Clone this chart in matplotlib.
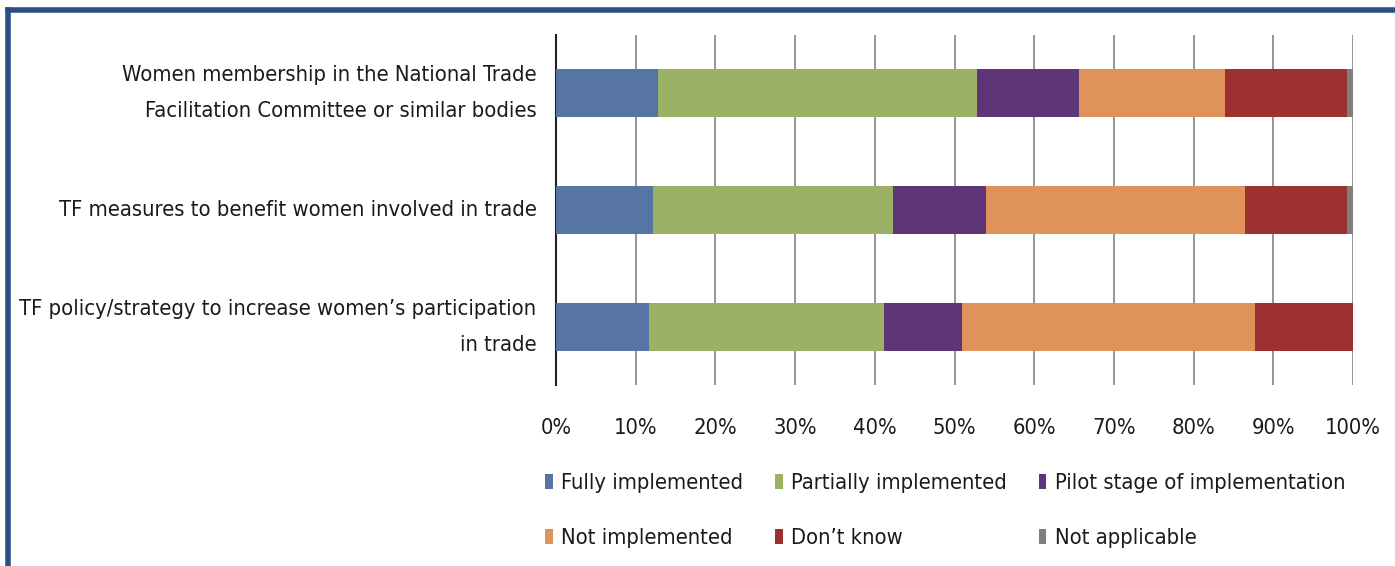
import numpy as np
import matplotlib
matplotlib.use("Agg")
import matplotlib.pyplot as plt
from matplotlib.patches import Patch
from matplotlib.lines import Line2D

plt.rcParams['font.family'] = ['DejaVu Sans']
plt.rcParams['font.stretch'] = 'condensed'

categories = [
    "Women membership in the National Trade\nFacilitation Committee or similar bodies",
    "TF measures to benefit women involved in trade",
    "TF policy/strategy to increase women\u2019s participation\nin trade",
]
series = ["Fully implemented", "Partially implemented", "Pilot stage of implementation",
          "Not implemented", "Don\u2019t know", "Not applicable"]
fully = [12.8, 12.2, 11.7]
partially = [40.0, 30.1, 29.4]
pilot = [12.8, 11.6, 9.8]
not_impl = [18.4, 32.6, 36.8]
dont_know = [15.3, 12.8, 12.3]
not_appl = [0.7, 0.7, 0.0]
colors = ["#5675A5", "#9BB264", "#5E3578", "#DF925A", "#9D3030", "#7F7F7F"]

values = [fully, partially, pilot, not_impl, dont_know, not_appl]

fig = plt.figure(figsize=(13.95, 5.66), dpi=100)

# pick a font size so the longest label line is about as wide as in the reference (~515 px)
probe = fig.text(0, 0, "TF policy/strategy to increase women\u2019s participation", fontsize=20)
fig.canvas.draw()
w = probe.get_window_extent().width
probe.remove()
fs = 20 * 515 / w

ax = fig.add_axes([556 / 1395, 1 - 385 / 566, 797 / 1395, 350 / 566])

y = np.arange(len(categories))
left = np.zeros(len(categories))
handles = []
for vals, name, c in zip(values, series, colors):
    ax.barh(y, vals, left=left, height=0.41, color=c, edgecolor='none', zorder=3)
    left += np.array(vals)
    handles.append(Patch(facecolor=c, label=name))

ax.set_ylim(2.5, -0.5)
ax.set_xlim(0, 100)
ax.set_xticks(np.arange(0, 101, 10))
ax.set_xticklabels([f"{t}%" for t in range(0, 101, 10)])
ax.set_yticks(y)
ax.set_yticklabels(categories, fontsize=fs, linespacing=2.0, va='center')
ax.tick_params(axis='x', length=0, pad=24, labelsize=fs, labelcolor='#1a1a1a')
ax.tick_params(axis='y', length=0, pad=14, labelcolor='#1a1a1a')
ax.grid(axis='x', color='#8c8c8c', linewidth=1.3, zorder=0)
for s in ['top', 'right', 'bottom']:
    ax.spines[s].set_visible(False)
ax.spines['left'].set_color('#222222')
ax.spines['left'].set_linewidth(1.5)

order = [0, 3, 1, 4, 2, 5]
fig.legend([handles[i] for i in order], [series[i] for i in order],
           loc='upper left', bbox_to_anchor=(545 / 1395, 1 - 473 / 566),
           ncol=3, frameon=False, fontsize=fs, borderpad=0, borderaxespad=0,
           handlelength=0.35, handleheight=0.65, handletextpad=0.4,
           columnspacing=1.45, labelspacing=1.6, labelcolor='#1a1a1a')

# dark blue frame (top and left edges)
fig.add_artist(Line2D([7.5 / 1395, 1.0], [1 - 10 / 566, 1 - 10 / 566], color='#2A4F87', linewidth=4))
fig.add_artist(Line2D([7.5 / 1395, 7.5 / 1395], [0.0, 1 - 10 / 566], color='#2A4F87', linewidth=4))

fig.savefig("out.png", dpi=100)
